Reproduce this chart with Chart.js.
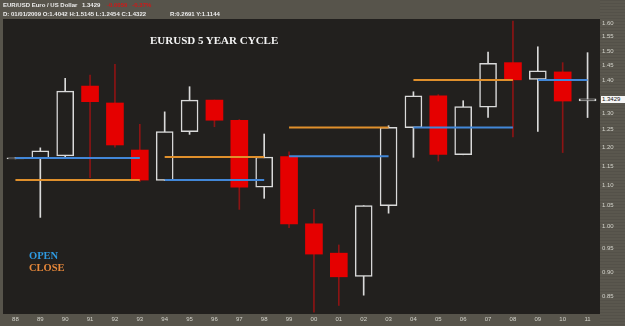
<!DOCTYPE html>
<html>
<head>
<meta charset="utf-8">
<script src="https://cdn.jsdelivr.net/npm/chart.js@4.4.1/dist/chart.umd.min.js"></script>
<style>
  html, body { margin: 0; padding: 0; background: #57544b; }
  #wrap { position: relative; width: 625px; height: 326px; overflow: hidden; background: #57544b; }
  #cycleChart { position: absolute; left: 0; top: 0; }
  .hdr { position: absolute; font: bold 6px "Liberation Sans", Arial, sans-serif; color: #ececec; white-space: pre; line-height: 7px; }
  .title { position: absolute; left: 150px; top: 35px; font: bold 11px "Liberation Serif", "Times New Roman", serif; color: #f4f4f4; line-height: 11px; white-space: nowrap; }
  .key { position: absolute; left: 29px; font: bold 10.5px "Liberation Serif", "Times New Roman", serif; line-height: 10.5px; }
  #lastPrice { position: absolute; left: 601px; top: 96px; width: 24px; height: 7px; background: #f6f6f6; color: #111;
    font: 6px "Liberation Sans", Arial, sans-serif; line-height: 7px; text-align: left; padding-left: 1px; box-sizing: border-box; }
</style>
</head>
<body>
<div id="wrap">
  <canvas id="cycleChart" width="625" height="326"></canvas>
  <div class="hdr" style="left:3px; top:2px;">EUR/USD Euro / US Dollar</div>
  <div class="hdr" style="left:82px; top:2px;">1.3429</div>
  <div class="hdr" style="left:107px; top:2px; color:#d01818;">-0.0050   -0.37%</div>
  <div class="hdr" style="left:3px; top:11px;">D: 01/01/2009 O:1.4042 H:1.5145 L:1.2454 C:1.4322</div>
  <div class="hdr" style="left:170px; top:11px;">R:0.2691 Y:1.1144</div>
  <div class="title">EURUSD 5 YEAR CYCLE</div>
  <div class="key" style="top:251px; color:#2f9ae0;">OPEN</div>
  <div class="key" style="top:263px; color:#e8883a;">CLOSE</div>
  <div id="lastPrice">1.3429</div>
</div>
<script>
// 年足データ -------------------------------------
const years = ["88", "89", "90", "91", "92", "93", "94", "95", "96", "97", "98", "99",
  "00", "01", "02", "03", "04", "05", "06", "07", "08", "09", "10", "11"];
const opens = [1.169, 1.170, 1.177, 1.383, 1.330, 1.193, 1.112, 1.245, 1.339, 1.278, 1.095, 1.175,
  1.006, 0.940, 0.891, 1.049, 1.256, 1.352, 1.180, 1.317, 1.460, 1.4042, 1.429, 1.336];
const closes = [1.172, 1.191, 1.367, 1.334, 1.207, 1.113, 1.245, 1.339, 1.278, 1.095, 1.174, 1.006,
  0.938, 0.890, 1.049, 1.257, 1.352, 1.181, 1.319, 1.458, 1.403, 1.4322, 1.336, 1.3429];
const highs = [1.172, 1.199, 1.408, 1.419, 1.454, 1.266, 1.303, 1.381, 1.339, 1.280, 1.238, 1.188,
  1.040, 0.958, 1.049, 1.262, 1.365, 1.356, 1.337, 1.496, 1.607, 1.5145, 1.460, 1.494];
const lows = [1.169, 1.021, 1.174, 1.119, 1.201, 1.109, 1.112, 1.237, 1.259, 1.040, 1.067, 0.997,
  0.820, 0.833, 0.853, 1.031, 1.173, 1.163, 1.180, 1.286, 1.230, 1.2454, 1.186, 1.286];

// 5年サイクル（開始年・終了年・始値ライン・終値ライン）
const cycleStart = ["88", "94", "99", "04", "09"];
const cycleEnd = ["93", "98", "03", "08", "11"];
const cycleOpen = [1.171, 1.113, 1.176, 1.257, 1.4025];
const cycleClose = [1.113, 1.174, 1.257, 1.4025];

// 右軸の目盛り
const yTicks = [1.60, 1.55, 1.50, 1.45, 1.40, 1.30, 1.25, 1.20, 1.15, 1.10, 1.05, 1.00, 0.95, 0.90, 0.85];
const yMin = 0.8167;
const yMax = 1.6149;

const BG = "#22201e";
const WHITE = "#dadada";
const RED = "#e50000";
const RED_WICK = "#8c1414";
const BLUE = "#4287d8";
const ORANGE = "#e0902c";

const isUp = opens.map((o, i) => closes[i] >= o);

const datasets = [];

// 始値・終値ライン
cycleStart.forEach((s, i) => {
  datasets.push({
    type: "line",
    data: [{ x: s, y: cycleOpen[i] }, { x: cycleEnd[i], y: cycleOpen[i] }],
    borderColor: BLUE,
    borderWidth: 2,
    pointRadius: 0,
    order: 0,
  });
  if (cycleClose[i] !== undefined) {
    datasets.push({
      type: "line",
      data: [{ x: s, y: cycleClose[i] }, { x: cycleEnd[i], y: cycleClose[i] }],
      borderColor: ORANGE,
      borderWidth: 2,
      pointRadius: 0,
      order: 0,
    });
  }
});

// ローソク実体
datasets.push({
  type: "bar",
  data: opens.map((o, i) => [o, closes[i]]),
  backgroundColor: isUp.map((u) => (u ? BG : RED)),
  borderColor: isUp.map((u) => (u ? WHITE : RED)),
  borderWidth: isUp.map((u) => (u ? 1.5 : 0)),
  borderSkipped: false,
  barThickness: 17,
  grouped: false,
  order: 1,
});

// ヒゲ
datasets.push({
  type: "bar",
  data: lows.map((l, i) => [l, highs[i]]),
  backgroundColor: isUp.map((u) => (u ? WHITE : RED_WICK)),
  borderWidth: 0,
  barThickness: 1,
  grouped: false,
  order: 2,
});

// 背景パネル
const panelBg = {
  id: "panelBg",
  beforeDraw(chart) {
    const { ctx, chartArea: a, width, height } = chart;
    ctx.save();
    ctx.fillStyle = "#57544b";
    ctx.fillRect(0, 0, width, height);
    // 右軸パネル（うっすら横縞）
    ctx.fillStyle = "#5a574e";
    ctx.fillRect(a.right, 0, width - a.right, height);
    ctx.fillStyle = "rgba(0,0,0,0.06)";
    for (let y = 0; y < height; y += 3) ctx.fillRect(a.right, y, width - a.right, 1);
    ctx.fillStyle = BG;
    ctx.fillRect(a.left, a.top, a.right - a.left, a.bottom - a.top);
    ctx.restore();
  },
};

const chart = new Chart(document.getElementById("cycleChart"), {
  type: "bar",
  data: { labels: years, datasets },
  options: {
    responsive: false,
    animation: false,
    layout: { padding: { top: 19, left: 3, right: 0, bottom: 0 } },
    plugins: { legend: { display: false }, tooltip: { enabled: false } },
    scales: {
      x: {
        offset: true,
        grid: { display: false, drawTicks: false },
        border: { display: false },
        ticks: {
          color: "#d4d4cc",
          font: { family: "Liberation Sans", size: 6 },
          padding: 2,
          maxRotation: 0,
          autoSkip: false,
        },
        afterFit: (s) => { s.height = 12; },
      },
      y: {
        type: "logarithmic",
        position: "right",
        min: yMin,
        max: yMax,
        bounds: "data",
        grid: { display: false, drawTicks: false },
        border: { display: false },
        ticks: {
          color: "#d4d4cc",
          font: { family: "Liberation Sans", size: 6 },
          padding: 2,
          crossAlign: "near",
          autoSkip: false,
          callback: (v) => Number(v).toFixed(2),
        },
        afterBuildTicks: (s) => { s.ticks = yTicks.map((v) => ({ value: v })); },
        afterFit: (s) => { s.width = 25; },
      },
    },
  },
  plugins: [panelBg],
});
</script>
</body>
</html>
